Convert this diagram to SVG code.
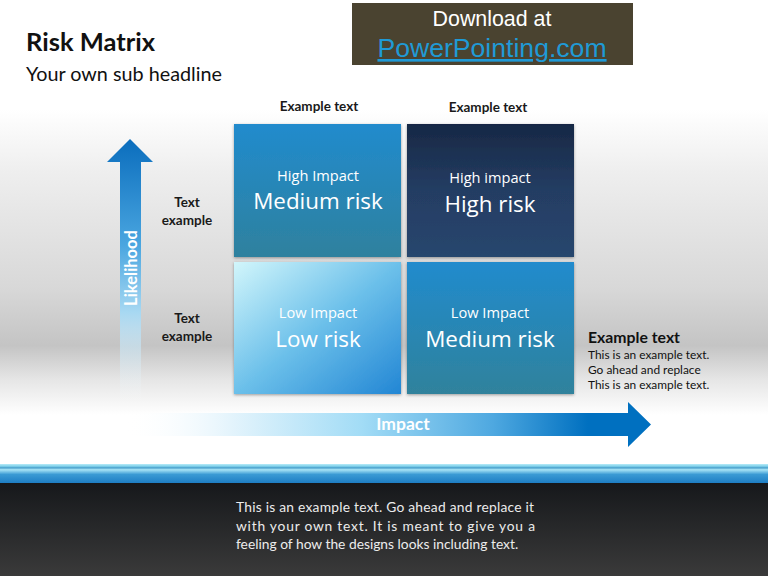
<svg xmlns="http://www.w3.org/2000/svg" width="768" height="576" viewBox="0 0 768 576">
<defs>
<linearGradient id="bg" x1="0" y1="0" x2="0" y2="1">
<stop offset="0" stop-color="#ffffff"/>
<stop offset="0.19" stop-color="#ffffff"/>
<stop offset="0.3" stop-color="#eeeeee"/>
<stop offset="0.5" stop-color="#d8d8d8"/>
<stop offset="0.6" stop-color="#c4c4c4"/>
<stop offset="0.66" stop-color="#e6e6e6"/>
<stop offset="0.72" stop-color="#ffffff"/>
<stop offset="1" stop-color="#ffffff"/>
</linearGradient>
<linearGradient id="gTL" x1="0" y1="0" x2="0" y2="1">
<stop offset="0" stop-color="#218bcd"/>
<stop offset="1" stop-color="#2f819e"/>
</linearGradient>
<linearGradient id="gTR" x1="0" y1="0" x2="0" y2="1">
<stop offset="0" stop-color="#172845"/>
<stop offset="0.5" stop-color="#243d63"/>
<stop offset="1" stop-color="#28466e"/>
</linearGradient>
<linearGradient id="gBL" x1="0" y1="0" x2="1" y2="1">
<stop offset="0" stop-color="#d2f6fb"/>
<stop offset="0.5" stop-color="#6cc0ea"/>
<stop offset="1" stop-color="#2286d4"/>
</linearGradient>
<linearGradient id="gBR" x1="0" y1="0" x2="0" y2="1">
<stop offset="0" stop-color="#218bcd"/>
<stop offset="1" stop-color="#30829c"/>
</linearGradient>
<linearGradient id="gUp" x1="0" y1="0" x2="0" y2="1">
<stop offset="0" stop-color="#0a6dbd"/>
<stop offset="0.4" stop-color="#4aa6e0"/>
<stop offset="0.65" stop-color="#a7d8f2"/>
<stop offset="1" stop-color="#ffffff" stop-opacity="0"/>
</linearGradient>
<linearGradient id="gRight" x1="0" y1="0" x2="1" y2="0">
<stop offset="0" stop-color="#ffffff" stop-opacity="0"/>
<stop offset="0.2" stop-color="#e4f4fc"/>
<stop offset="0.45" stop-color="#a2dcf6"/>
<stop offset="0.7" stop-color="#4ea8e0"/>
<stop offset="0.88" stop-color="#0070c0"/>
<stop offset="1" stop-color="#0070c0"/>
</linearGradient>
<linearGradient id="gBand" x1="0" y1="0" x2="0" y2="1">
<stop offset="0" stop-color="#b8ecf8"/>
<stop offset="0.12" stop-color="#7fd0ea"/>
<stop offset="0.2" stop-color="#4aa0cc"/>
<stop offset="0.3" stop-color="#a8e4f6"/>
<stop offset="0.55" stop-color="#3a9ad4"/>
<stop offset="1" stop-color="#1e7ec4"/>
</linearGradient>
<linearGradient id="gDark" x1="0" y1="0" x2="0" y2="1">
<stop offset="0" stop-color="#16181b"/>
<stop offset="1" stop-color="#3a3a3a"/>
</linearGradient>
<filter id="sh" x="-10%" y="-10%" width="120%" height="120%">
<feDropShadow dx="0" dy="1" stdDeviation="1.5" flood-color="#000" flood-opacity="0.35"/>
</filter>
</defs>
<style>
.t{font-family:Lato,"Open Sans",sans-serif}
.b{font-weight:bold}
.cs{fill:#ffffff;font-family:"Open Sans",Lato,sans-serif;text-anchor:middle}
.sm{font-size:14.6px}
.lg{font-size:22.4px}
.lab{font-family:Lato,"Open Sans",sans-serif;font-weight:bold;font-size:13.5px;fill:#1a1a1a;text-anchor:middle}
</style>
<rect x="0" y="0" width="768" height="576" fill="url(#bg)"/>
<g id="download">
<rect x="352" y="3" width="281" height="62" fill="#4a4330"/>
<text x="492" y="26" font-family="Liberation Sans,Arial,sans-serif" font-size="21.4" fill="#ffffff" text-anchor="middle">Download at</text>
<text x="492" y="57" font-family="Liberation Sans,Arial,sans-serif" font-size="26.6" fill="#1f9ad6" text-anchor="middle" text-decoration="underline">PowerPointing.com</text>
</g>
<g id="title">
<text x="26" y="51" class="t b" font-size="25.5" fill="#111">Risk Matrix</text>
<text x="26" y="81" class="t" font-size="19.8" fill="#111">Your own sub headline</text>
</g>
<g id="headers">
<text x="319" y="111" class="lab">Example text</text>
<text x="488" y="112" class="lab">Example text</text>
<text x="187" y="207" class="lab">Text</text>
<text x="187" y="225" class="lab">example</text>
<text x="187" y="323" class="lab">Text</text>
<text x="187" y="341" class="lab">example</text>
</g>
<g id="connectors">
<g id="likelihood-arrow">
<path d="M120,162 H107 L130,139 L153,162 H141 V405 H120 Z" fill="url(#gUp)"/>
<text transform="translate(136.5,268) rotate(-90)" class="t b" font-size="16.5" fill="#ffffff" text-anchor="middle">Likelihood</text>
</g>
<g id="impact-arrow">
<path d="M125,413 H628 V402 L651,424.5 L628,447 V436 H125 Z" fill="url(#gRight)"/>
<text x="403" y="430" class="t b" font-size="17.5" fill="#ffffff" text-anchor="middle">Impact</text>
</g>
</g>
<g id="cell-tl">
<rect x="234" y="124" width="167" height="133" fill="url(#gTL)" filter="url(#sh)"/>
<text x="318" y="181" class="cs sm">High Impact</text>
<text x="318" y="209" class="cs lg">Medium risk</text>
</g>
<g id="cell-tr">
<rect x="407" y="124" width="167" height="133" fill="url(#gTR)" filter="url(#sh)"/>
<text x="490" y="183" class="cs sm">High impact</text>
<text x="490" y="212" class="cs lg">High risk</text>
</g>
<g id="cell-bl">
<rect x="234" y="262" width="167" height="132" fill="url(#gBL)" filter="url(#sh)"/>
<text x="318" y="318" class="cs sm">Low Impact</text>
<text x="318" y="347" class="cs lg">Low risk</text>
</g>
<g id="cell-br">
<rect x="407" y="262" width="167" height="132" fill="url(#gBR)" filter="url(#sh)"/>
<text x="490" y="318" class="cs sm">Low Impact</text>
<text x="490" y="347" class="cs lg">Medium risk</text>
</g>
<g id="side-text">
<text x="588" y="343" class="t b" font-size="15.8" fill="#111">Example text</text>
<text x="588" y="359" class="t" font-size="11.9" fill="#111">This is an example text.</text>
<text x="588" y="374" class="t" font-size="11.9" fill="#111">Go ahead and replace</text>
<text x="588" y="389" class="t" font-size="11.9" fill="#111">This is an example text.</text>
</g>
<g id="footer">
<rect x="0" y="464" width="768" height="19" fill="url(#gBand)"/>
<rect x="0" y="483" width="768" height="93" fill="url(#gDark)"/>
<text x="236" y="512" class="t" font-size="13.8" fill="#ececec" textLength="298" lengthAdjust="spacing">This is an example text. Go ahead and replace it</text>
<text x="236" y="531" class="t" font-size="13.8" fill="#ececec" textLength="299" lengthAdjust="spacing">with your own text. It is meant to give you a</text>
<text x="236" y="549" class="t" font-size="13.8" fill="#ececec">feeling of how the designs looks including text.</text>
</g>
</svg>
